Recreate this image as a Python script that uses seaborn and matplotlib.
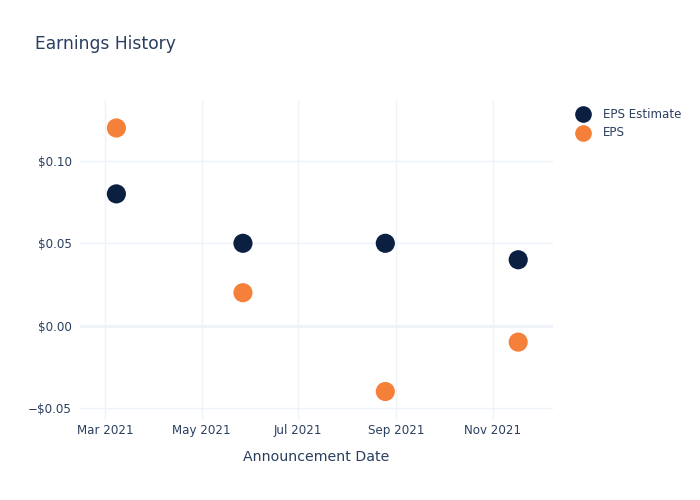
import matplotlib
matplotlib.use("Agg")
import matplotlib.pyplot as plt
import matplotlib.dates as mdates
import matplotlib.ticker as mticker
import pandas as pd
import seaborn as sns

dates = ["2021-03-08", "2021-05-27", "2021-08-25", "2021-11-17"]
eps_estimate = [0.08, 0.05, 0.05, 0.04]
eps_actual = [0.12, 0.02, -0.04, -0.01]
series_names = ["EPS Estimate", "EPS"]
colors = ["#0b1f41", "#f5803a"]

df = pd.DataFrame({
    "date": pd.to_datetime(dates * 2),
    "value": eps_estimate + eps_actual,
    "series": [series_names[0]] * len(dates) + [series_names[1]] * len(dates),
})

sns.set_style("white")
plt.rcParams["font.family"] = ["DejaVu Sans"]
text_color = "#2a3f5f"
grid_color = "#eef2f9"

fig = plt.figure(figsize=(7, 5), dpi=100)
ax = fig.add_axes([80 / 700, 80 / 500, (553 - 80) / 700, 320 / 500])

sns.scatterplot(data=df, x="date", y="value", hue="series", palette=colors,
                hue_order=series_names, s=190, edgecolor="none", ax=ax,
                legend=False, zorder=3)

ax.set_xlim(pd.Timestamp("2021-02-13"), pd.Timestamp("2021-12-09"))
ax.set_ylim(-0.0573, 0.137)

ax.xaxis.set_major_locator(mdates.MonthLocator(bymonth=[3, 5, 7, 9, 11]))
ax.xaxis.set_major_formatter(mdates.DateFormatter("%b %Y"))
ax.yaxis.set_major_locator(mticker.FixedLocator([-0.05, 0.0, 0.05, 0.10]))


def fmt(v, pos):
    s = "${:.2f}".format(abs(v))
    return ("\u2212" + s) if v < -1e-9 else s


ax.yaxis.set_major_formatter(mticker.FuncFormatter(fmt))

ax.grid(True, color=grid_color, linewidth=1, zorder=0)
ax.axhline(0, color=grid_color, linewidth=2, zorder=1)
for sp in ax.spines.values():
    sp.set_visible(False)
ax.tick_params(axis="both", length=0, labelsize=8.6, colors=text_color)
ax.tick_params(axis="x", pad=3)
ax.tick_params(axis="y", pad=6)

ax.set_xlabel("Announcement Date", fontsize=10.2, color=text_color, labelpad=9)
ax.set_ylabel("")

fig.text(35 / 700, 1 - 44 / 500, "Earnings History", fontsize=12.3,
         color=text_color, va="center", ha="left")

for i, (name, c) in enumerate(zip(series_names, colors)):
    y = 1 - (114 + 19 * i) / 500
    fig.lines.append(plt.Line2D([583 / 700], [y], marker="o", markersize=12,
                                color=c, markeredgewidth=0,
                                transform=fig.transFigure))
    fig.text(603 / 700, y, name, fontsize=8.6, color=text_color,
             va="center", ha="left")

fig.savefig("out.png", dpi=100)
